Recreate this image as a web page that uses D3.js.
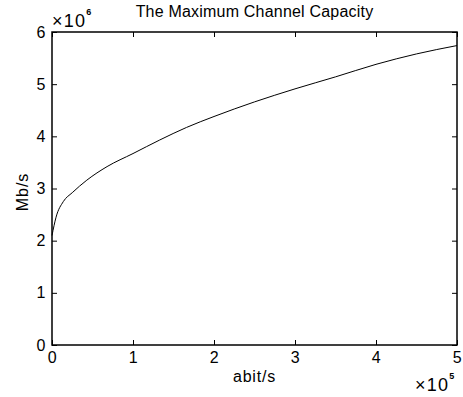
<!DOCTYPE html>
<html>
<head>
<meta charset="utf-8">
<script src="https://cdn.jsdelivr.net/npm/d3@7"></script>
<style>
  body { margin: 0; background: #fff; }
  text { font-family: "Liberation Sans", Arial, sans-serif; fill: #000; }
</style>
</head>
<body>
<div id="chart"></div>
<script>
// data (x in 1e5 abit/s, y in 1e6 Mb/s)
var xVals = [0, 0.05, 0.14, 0.25, 0.43, 0.68, 1.0, 1.33, 1.66, 2.0, 2.5, 3.0, 3.5, 4.0, 4.5, 5.0];
var yVals = [2.1, 2.45, 2.75, 2.92, 3.16, 3.42, 3.67, 3.93, 4.17, 4.38, 4.66, 4.91, 5.14, 5.38, 5.58, 5.74];
var xTicks = [0, 1, 2, 3, 4, 5];
var yTicks = [0, 1, 2, 3, 4, 5, 6];

var margin = {top: 32, right: 6, bottom: 52, left: 52},
    width = 463 - margin.left - margin.right,
    height = 397 - margin.top - margin.bottom;

var svg = d3.select("#chart").append("svg")
    .attr("width", 463)
    .attr("height", 397);

var g = svg.append("g")
    .attr("transform", "translate(" + margin.left + "," + margin.top + ")");

var x = d3.scaleLinear().domain([0, 5]).range([0, width]);
var y = d3.scaleLinear().domain([0, 6]).range([height, 0]);

var data = xVals.map(function(d, i) { return {x: d, y: yVals[i]}; });

// axes, matlab style: ticks inside on all four sides
function styleAxis(sel) {
  sel.select(".domain").remove();
  sel.selectAll(".tick line").attr("stroke", "#000").attr("stroke-width", 1);
  sel.selectAll(".tick text")
    .style("font-size", "16px")
    .style("letter-spacing", "0.5px")
    .style("font-family", "Liberation Sans, Arial, sans-serif");
}

g.append("g")
    .attr("transform", "translate(0," + height + ")")
    .call(d3.axisBottom(x).tickValues(xTicks).tickFormat(d3.format("d")).tickSizeInner(-5).tickPadding(7))
    .call(styleAxis);

g.append("g")
    .call(d3.axisTop(x).tickValues(xTicks).tickFormat("").tickSizeInner(-5))
    .call(styleAxis);

g.append("g")
    .call(d3.axisLeft(y).tickValues(yTicks).tickFormat(d3.format("d")).tickSizeInner(-5).tickPadding(6))
    .call(styleAxis);

g.append("g")
    .attr("transform", "translate(" + width + ",0)")
    .call(d3.axisRight(y).tickValues(yTicks).tickFormat("").tickSizeInner(-5))
    .call(styleAxis);

g.append("rect")
    .attr("width", width)
    .attr("height", height)
    .attr("fill", "none")
    .attr("stroke", "#000")
    .attr("stroke-width", 1.5);

var line = d3.line()
    .x(function(d) { return x(d.x); })
    .y(function(d) { return y(d.y); })
    .curve(d3.curveMonotoneX);

g.append("path")
    .datum(data)
    .attr("d", line)
    .attr("fill", "none")
    .attr("stroke", "#000")
    .attr("stroke-width", 1);

// title and labels
svg.append("text")
    .attr("x", margin.left + width / 2)
    .attr("y", 17)
    .attr("text-anchor", "middle")
    .style("font-size", "16px")
    .style("letter-spacing", "0.2px")
    .text("The Maximum Channel Capacity");

svg.append("text")
    .attr("x", margin.left + width / 2)
    .attr("y", 382)
    .attr("text-anchor", "middle")
    .style("font-size", "16px")
    .style("letter-spacing", "0.8px")
    .text("abit/s");

svg.append("text")
    .attr("transform", "translate(28,192) rotate(-90)")
    .attr("text-anchor", "middle")
    .style("font-size", "16px")
    .style("letter-spacing", "1px")
    .text("Mb/s");

// exponent labels
var e6 = svg.append("text").attr("x", 52).attr("y", 27).style("font-size", "18px").style("letter-spacing", "1.2px");
e6.append("tspan").text("\u00d710");
e6.append("tspan").attr("dy", -12).style("font-size", "9px").style("font-weight", "bold").text("6");

var e5 = svg.append("text").attr("x", 415).attr("y", 391).style("font-size", "18px").style("letter-spacing", "1.2px");
e5.append("tspan").text("\u00d710");
e5.append("tspan").attr("dy", -12).style("font-size", "9px").style("font-weight", "bold").text("5");
</script>
</body>
</html>
